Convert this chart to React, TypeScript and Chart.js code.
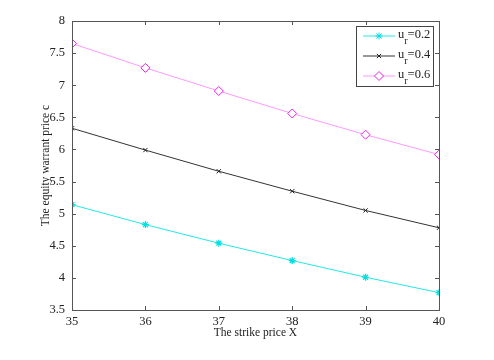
import React, { useEffect, useRef } from "react";
import { Chart, registerables } from "chart.js";
import { drawPoint } from "chart.js/helpers";

Chart.register(...registerables);

const strikes = [35, 36, 37, 38, 39, 40];
const ur02 = [5.14, 4.83, 4.54, 4.27, 4.01, 3.77];
const ur04 = [6.33, 5.99, 5.66, 5.35, 5.05, 4.78];
const ur06 = [7.65, 7.27, 6.91, 6.56, 6.23, 5.92];
const seriesNames = ["0.2", "0.4", "0.6"];
const FONT = "'Liberation Serif', 'Times New Roman', serif";

const frame = {
  id: "frame",
  afterDatasetsDraw(chart: any) {
    const { ctx, chartArea: a, scales } = chart;
    ctx.save();
    ctx.strokeStyle = "#555";
    ctx.lineWidth = 1;
    ctx.strokeRect(Math.round(a.left) + 0.5, Math.round(a.top) + 0.5, Math.round(a.right - a.left), Math.round(a.bottom - a.top));
    const L = 4;
    ctx.beginPath();
    scales.x.ticks.forEach((t: any) => {
      const x = Math.round(scales.x.getPixelForValue(t.value)) + 0.5;
      ctx.moveTo(x, a.bottom); ctx.lineTo(x, a.bottom - L);
      ctx.moveTo(x, a.top); ctx.lineTo(x, a.top + L);
    });
    scales.y.ticks.forEach((t: any) => {
      const y = Math.round(scales.y.getPixelForValue(t.value)) + 0.5;
      ctx.moveTo(a.left, y); ctx.lineTo(a.left + L, y);
      ctx.moveTo(a.right, y); ctx.lineTo(a.right - L, y);
    });
    ctx.stroke();
    ctx.restore();
  },
};

const legendBox = {
  id: "legendBox",
  afterDraw(chart: any) {
    const { ctx, chartArea: a } = chart;
    const w = 77, h = 60;
    const x0 = a.right - 83, y0 = a.top + 5;
    ctx.save();
    ctx.fillStyle = "#fff";
    ctx.fillRect(x0, y0, w, h);
    ctx.strokeStyle = "#444";
    ctx.lineWidth = 1;
    ctx.strokeRect(x0 + 0.5, y0 + 0.5, w, h);
    chart.data.datasets.forEach((ds: any, i: number) => {
      const y = y0 + 10 + i * 20;
      ctx.strokeStyle = ds.borderColor;
      ctx.lineWidth = 1;
      ctx.beginPath();
      ctx.moveTo(x0 + 7, y); ctx.lineTo(x0 + 39, y);
      ctx.stroke();
      ctx.strokeStyle = ds.pointBorderColor;
      ctx.fillStyle = ds.pointBackgroundColor;
      ctx.lineWidth = 1;
      drawPoint(ctx, { pointStyle: ds.pointStyle, radius: ds.pointRadius, borderWidth: 1, rotation: 0 } as any, x0 + 23, y);
      ctx.fillStyle = "#222";
      ctx.textBaseline = "middle";
      ctx.textAlign = "left";
      ctx.font = `12.5px ${FONT}`;
      let tx = x0 + 42;
      ctx.fillText("u", tx, y - 1);
      tx += ctx.measureText("u").width;
      ctx.font = `10px ${FONT}`;
      ctx.fillText("r", tx, y + 5);
      tx += ctx.measureText("r").width;
      ctx.font = `12.5px ${FONT}`;
      ctx.fillText("=" + seriesNames[i], tx, y - 1);
    });
    ctx.restore();
  },
};

export default function App() {
  const ref = useRef<HTMLCanvasElement>(null);
  useEffect(() => {
    const chart = new Chart(ref.current!, {
      type: "line",
      data: {
        labels: strikes,
        datasets: [
          {
            data: ur02, borderColor: "#22e8e8", pointBorderColor: "#00e0e0", pointBackgroundColor: "#00e0e0",
            pointStyle: "star", pointRadius: 3.5, borderWidth: 1, pointBorderWidth: 1.2,
          },
          {
            data: ur04, borderColor: "#333", pointBorderColor: "#222", pointBackgroundColor: "#222",
            pointStyle: "crossRot", pointRadius: 3, borderWidth: 1, pointBorderWidth: 1,
          },
          {
            data: ur06, borderColor: "#ff99ff", pointBorderColor: "#f020f0", pointBackgroundColor: "#ffffff",
            pointStyle: "rectRot", pointRadius: 4.5, borderWidth: 1, pointBorderWidth: 1,
          },
        ] as any,
      },
      options: {
        animation: false,
        responsive: false,
        maintainAspectRatio: false,
        layout: { padding: { left: 35, right: 55, top: 21, bottom: 14 } },
        plugins: { legend: { display: false }, tooltip: { enabled: false } },
        scales: {
          x: {
            type: "linear", min: 35, max: 40,
            grid: { display: false, drawTicks: false },
            border: { display: false },
            ticks: { stepSize: 1, padding: 4, color: "#222", font: { family: FONT, size: 12.5 }, callback: (v: any) => String(v) },
            title: { display: true, text: "The strike price X", color: "#222", font: { family: FONT, size: 11.5 }, padding: { top: 2, bottom: 6 } },
            afterFit(s: any) { s.height = 36; },
          },
          y: {
            type: "linear", min: 3.5, max: 8,
            grid: { display: false, drawTicks: false },
            border: { display: false },
            ticks: { stepSize: 0.5, padding: 7, color: "#222", font: { family: FONT, size: 12.5 }, callback: (v: any) => String(v) },
            title: { display: true, text: "The equity warrant price c", color: "#222", font: { family: FONT, size: 11.5 }, padding: { top: 4, bottom: 4 } },
            afterFit(s: any) { s.width = 37; },
          },
        },
      } as any,
      plugins: [frame, legendBox],
    });
    return () => chart.destroy();
  }, []);
  return (
    <div style={{ position: "fixed", left: 0, top: 0, width: 494, height: 360, background: "#fff" }}>
      <canvas ref={ref} width={494} height={360} style={{ display: "block" }} />
    </div>
  );
}
